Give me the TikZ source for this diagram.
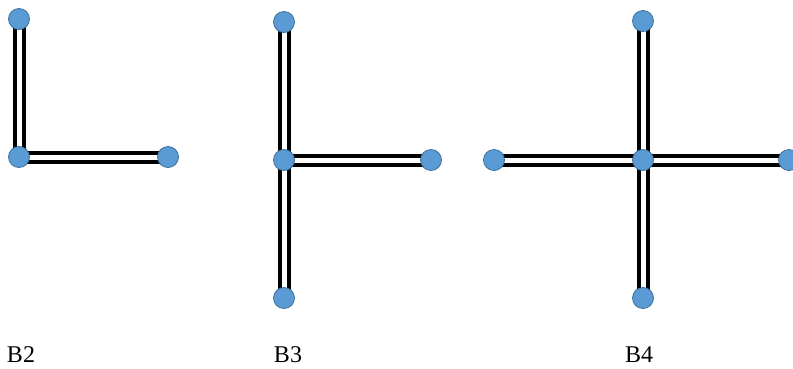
\documentclass[tikz,border=0pt]{standalone}
\usepackage{fontspec}
\setmainfont{Liberation Serif}
\definecolor{nodefill}{HTML}{5B9BD5}
\definecolor{nodeedge}{HTML}{41719C}
\begin{document}
\begin{tikzpicture}[x=1pt,y=-1pt,
  joint/.style={circle,fill=nodefill,draw=nodeedge,line width=0.8pt,minimum size=21pt,inner sep=0pt},
  bar/.style={draw=black,line width=4pt,double=white,double distance=5pt},
  lbl/.style={font=\fontsize{24}{24}\selectfont,anchor=base,inner sep=0pt}]
\useasboundingbox (0,0) rectangle (793,368);
% B2
\coordinate (a1) at (19,19);
\coordinate (a0) at (19,157);
\coordinate (a2) at (168,157);
\draw[bar] (a1) -- (a0);
\draw[bar] (a0) -- (a2);
\node[joint] (na1) at (a1) {};
\node[joint] (na0) at (a0) {};
\node[joint] (na2) at (a2) {};
\node[lbl] (l2) at (21,362) {B2};
% B3
\coordinate (b1) at (284,22);
\coordinate (b0) at (284,160);
\coordinate (b2) at (431,160);
\coordinate (b3) at (284,298);
\draw[bar] (b1) -- (b0);
\draw[bar] (b0) -- (b3);
\draw[bar] (b0) -- (b2);
\node[joint] (nb1) at (b1) {};
\node[joint] (nb0) at (b0) {};
\node[joint] (nb2) at (b2) {};
\node[joint] (nb3) at (b3) {};
\node[lbl] (l3) at (288,362) {B3};
% B4
\coordinate (c1) at (643,21);
\coordinate (c0) at (643,160);
\coordinate (c2) at (789,160);
\coordinate (c3) at (643,298);
\coordinate (c4) at (494,160);
\draw[bar] (c1) -- (c0);
\draw[bar] (c0) -- (c3);
\draw[bar] (c0) -- (c2);
\draw[bar] (c4) -- (c0);
\node[joint] (nc1) at (c1) {};
\node[joint] (nc0) at (c0) {};
\node[joint] (nc2) at (c2) {};
\node[joint] (nc3) at (c3) {};
\node[joint] (nc4) at (c4) {};
\node[lbl] (l4) at (639,362) {B4};
\end{tikzpicture}
\end{document}
